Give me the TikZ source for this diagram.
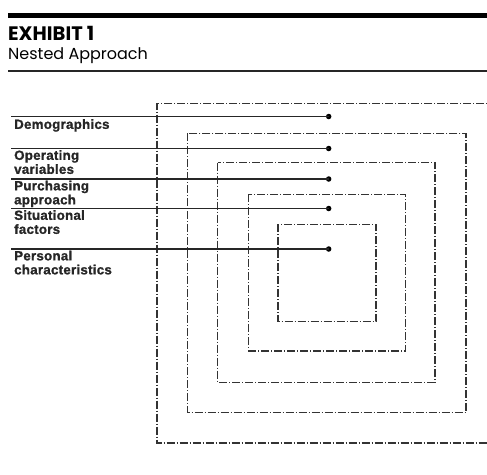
\documentclass[tikz,border=0pt]{standalone}
\usepackage{fontspec}
\setmainfont{Liberation Sans}
\newfontfamily\headfont{Poppins}
\newfontfamily\lblfont[LetterSpace=2,FakeBold=1.2]{Liberation Sans}
\begin{document}
\begin{tikzpicture}[x=1pt,y=-1pt,
  nest/.style={draw=black!80,line width=1.1pt,dash pattern=on 8pt off 2pt on 1pt off 2pt},
  lbl/.style={anchor=north west,inner sep=0pt,align=left,font=\lblfont\fontsize{13.3}{14}\selectfont\bfseries,text=black!85},
  pin/.style={circle,fill=black,inner sep=0pt,minimum size=5.5pt},
  lead/.style={line width=1.1pt,draw=black!85}]
\useasboundingbox (0,0) rectangle (487,474);
\clip (0,0) rectangle (487,474);
% header
\fill[black] (8,13) rectangle (487,17.5);
\node[anchor=base west,inner sep=0pt,font=\headfont\fontsize{19.5}{21}\selectfont\bfseries] (title) at (8,40.5) {EXHIBIT 1};
\node[anchor=base west,inner sep=0pt,font=\headfont\fontsize{16}{18}\selectfont] (subtitle) at (8,59) {Nested Approach};
\draw[line width=1.3pt,black!85] (8,71) -- (487,71);
% nested boxes
\draw[nest] (497,103.5) -- (157,103.5) -- (157,443) -- (497,443);
\draw[nest] (187.7,133.3) rectangle (466,412.3);
\draw[nest] (217.7,162.7) rectangle (435,382.3);
\draw[nest] (248.7,194.3) rectangle (405.7,351);
\draw[nest] (278,224.3) rectangle (376,321.7);
% leader lines
\coordinate (s1) at (11,116.5);
\coordinate (s2) at (11,148.5);
\coordinate (s3) at (11,179);
\coordinate (s4) at (11,208.5);
\coordinate (s5) at (11,249);
\node[pin] (d1) at (328.7,116.5) {};
\node[pin] (d2) at (328.7,148.5) {};
\node[pin] (d3) at (328.7,179) {};
\node[pin] (d4) at (328.7,208.5) {};
\node[pin] (d5) at (328.7,249) {};
\foreach \i in {1,...,5} \draw[lead] (s\i) -- (d\i.center);
% labels
\node[lbl] (l1) at (14,119) {Demographics};
\node[lbl] (l2) at (14,150) {Operating\\variables};
\node[lbl] (l3) at (14,180.5) {Purchasing\\approach};
\node[lbl] (l4) at (14,210) {Situational\\factors};
\node[lbl] (l5) at (14,250.5) {Personal\\characteristics};
\end{tikzpicture}
\end{document}
